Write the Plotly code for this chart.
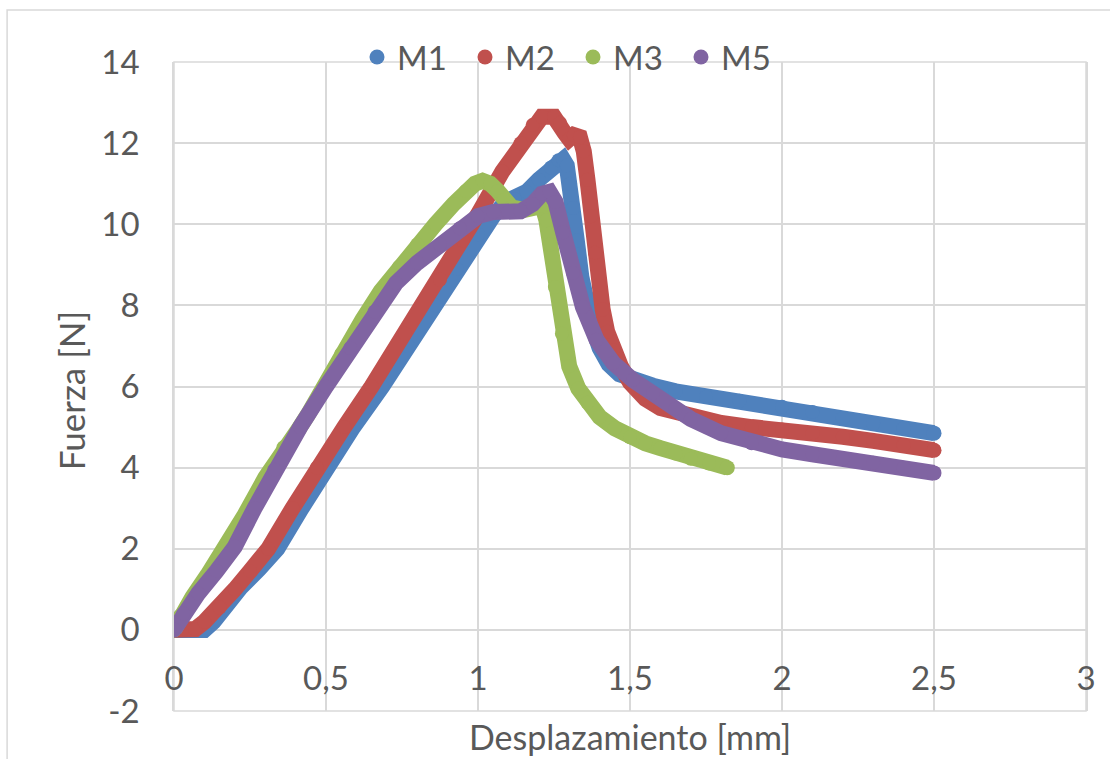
import plotly.graph_objects as go

# Force vs. displacement curves for four specimens
m1_x = [0, 0.05, 0.10, 0.13, 0.17, 0.22, 0.28, 0.34, 0.42, 0.50, 0.59, 0.685, 0.77, 0.86, 0.93, 1.00,
        1.05, 1.09, 1.12, 1.16, 1.20, 1.24, 1.265, 1.28, 1.292, 1.303, 1.313, 1.325, 1.34, 1.355, 1.375,
        1.40, 1.43, 1.465, 1.51, 1.575, 1.65, 1.75, 1.86, 2.00, 2.10, 2.20, 2.30, 2.40, 2.50]
m1_y = [0, 0, 0, 0.2, 0.6, 1.05, 1.5, 2.0, 3.0, 4.0, 5.0, 6.0, 7.0, 8.0, 8.9, 9.75,
        10.2, 10.55, 10.62, 10.8, 11.1, 11.4, 11.58, 11.6, 11.45, 11.0, 10.4, 9.6, 8.7, 8.1, 7.5,
        6.95, 6.55, 6.3, 6.15, 6.02, 5.88, 5.75, 5.65, 5.5, 5.37, 5.22, 5.08, 4.97, 4.85]

m2_x = [0, 0.04, 0.07, 0.10, 0.15, 0.20, 0.25, 0.31, 0.39, 0.47, 0.56, 0.65, 0.76, 0.875, 0.95, 1.00,
        1.08, 1.14, 1.18, 1.21, 1.25, 1.27, 1.285, 1.30, 1.315, 1.335, 1.348, 1.36, 1.372, 1.385, 1.398,
        1.41, 1.425, 1.445, 1.47, 1.50, 1.55, 1.60, 1.70, 1.80, 1.90, 2.00, 2.10, 2.20, 2.30, 2.40, 2.50]
m2_y = [0, 0, 0.02, 0.2, 0.55, 1.0, 1.45, 2.0, 3.0, 4.0, 5.0, 6.0, 7.3, 8.63, 9.6, 10.25,
        11.3, 12.0, 12.45, 12.65, 12.65, 12.5, 12.25, 12.1, 12.2, 12.15, 11.8, 11.1, 10.2, 9.3, 8.5,
        7.9, 7.35, 6.9, 6.5, 6.1, 5.7, 5.47, 5.25, 5.1, 5.0, 4.94, 4.85, 4.76, 4.66, 4.55, 4.43]

m3_x = [0, 0.02, 0.06, 0.11, 0.17, 0.23, 0.30, 0.36, 0.41, 0.44, 0.48, 0.55, 0.62, 0.68, 0.74, 0.80,
        0.86, 0.92, 0.96, 0.99, 1.015, 1.04, 1.065, 1.085, 1.11, 1.15, 1.19, 1.212, 1.225, 1.237, 1.253,
        1.276, 1.30, 1.33, 1.36, 1.40, 1.45, 1.50, 1.55, 1.60, 1.65, 1.70, 1.76, 1.82]
m3_y = [0, 0.35, 0.8, 1.35, 2.0, 2.8, 3.75, 4.5, 4.95, 5.3, 5.85, 6.8, 7.65, 8.35, 8.95, 9.5,
        10.0, 10.5, 10.82, 11.0, 11.07, 11.0, 10.82, 10.6, 10.42, 10.35, 10.4, 10.45, 10.1, 9.5, 8.45,
        7.3, 6.5, 5.95, 5.6, 5.25, 4.97, 4.75, 4.6, 4.48, 4.35, 4.22, 4.1, 4.0]

m5_x = [0, 0.03, 0.08, 0.14, 0.20, 0.265, 0.33, 0.415, 0.50, 0.58, 0.66, 0.73, 0.80, 0.875, 0.94,
        1.00, 1.05, 1.10, 1.14, 1.18, 1.21, 1.235, 1.255, 1.28, 1.313, 1.345, 1.39, 1.445, 1.51, 1.576,
        1.65, 1.70, 1.80, 1.90, 2.00, 2.10, 2.20, 2.30, 2.40, 2.50]
m5_y = [0, 0.4, 0.9, 1.45, 2.05, 3.0, 3.95, 5.0, 6.0, 6.95, 7.85, 8.55, 9.05, 9.5, 9.9,
        10.2, 10.3, 10.3, 10.32, 10.5, 10.75, 10.8, 10.55, 9.8, 8.8, 7.96, 7.15, 6.58, 6.16, 5.84,
        5.45, 5.2, 4.85, 4.6, 4.45, 4.33, 4.22, 4.12, 4.0, 3.87]

series_names = ["M1", "M2", "M3", "M5"]
series_colors = ["#4F81BD", "#C0504D", "#9BBB59", "#8064A2"]

x_ticks = [0, 0.5, 1, 1.5, 2, 2.5, 3]
x_tick_text = ["0", "0,5", "1", "1,5", "2", "2,5", "3"]
y_ticks = [-2, 0, 2, 4, 6, 8, 10, 12, 14]
y_tick_text = ["-2", "0", "2", "4", "6", "8", "10", "12", "14"]

x_range = [0, 3]
y_range = [-2, 14]

FONT = "Lato, Carlito, Calibri, sans-serif"
TXT = "#595959"
GRID = "#D9D9D9"
LW = 16

fig = go.Figure()
for name, color, xs, ys in zip(series_names, series_colors,
                               [m1_x, m2_x, m3_x, m5_x], [m1_y, m2_y, m3_y, m5_y]):
    # thick curve; a dot on every vertex keeps the joins rounded
    fig.add_trace(go.Scatter(x=xs, y=ys, mode="lines+markers", name=name, legendgroup=name,
                             showlegend=False, line=dict(color=color, width=LW),
                             marker=dict(color=color, size=LW - 2, line=dict(width=0)),
                             hoverinfo="skip"))
    # rounded ends of each curve (also provides the legend dot)
    fig.add_trace(go.Scatter(x=[xs[0], xs[-1]], y=[ys[0], ys[-1]], mode="markers", name=name,
                             legendgroup=name, marker=dict(color=color, size=LW - 1, line=dict(width=0))))

# horizontal axis crosses the vertical axis at y = 0
x_axis_pos = (0 - y_range[0]) / (y_range[1] - y_range[0])

fig.update_layout(
    width=1110, height=759,
    margin=dict(l=174, r=24, t=62, b=48),
    paper_bgcolor="white", plot_bgcolor="white",
    font=dict(family=FONT, size=33, color=TXT),
    showlegend=True,
    legend=dict(orientation="h", x=0.4375, xanchor="center", y=1.0077, yanchor="middle",
                bgcolor="rgba(0,0,0,0)", font=dict(size=33, color=TXT),
                itemsizing="trace", tracegroupgap=0, entrywidth=63, entrywidthmode="pixels"),
    xaxis=dict(range=x_range, tickvals=x_ticks, ticktext=x_tick_text, showgrid=True,
               gridcolor=GRID, gridwidth=1.5, zeroline=False, showline=False,
               anchor="free", position=x_axis_pos, ticks="", ticklabelstandoff=26,
               tickfont=dict(size=33, color=TXT)),
    yaxis=dict(range=y_range, tickvals=y_ticks, ticktext=y_tick_text, showgrid=True,
               gridcolor=GRID, gridwidth=1.5, zeroline=False, showline=True, mirror=True,
               linecolor=GRID, linewidth=1.5, ticks="", ticklabelstandoff=26,
               tickfont=dict(size=33, color=TXT)),
    annotations=[
        dict(text="Desplazamiento [mm]", xref="paper", yref="paper", x=0.5, y=-0.039,
             xanchor="center", yanchor="middle", showarrow=False, font=dict(size=34, color=TXT)),
        dict(text="Fuerza [N]", xref="paper", yref="paper", x=-0.112, y=0.494, textangle=-90,
             xanchor="center", yanchor="middle", showarrow=False, font=dict(size=35, color=TXT)),
    ],
    shapes=[
        dict(type="rect", xref="paper", yref="paper", x0=-0.183, y0=-0.2, x1=1.2, y1=1.080,
             line=dict(color=GRID, width=1.5), fillcolor="rgba(0,0,0,0)", layer="below"),
        dict(type="rect", xref="paper", yref="paper", x0=0, y0=0, x1=1, y1=1,
             line=dict(color=GRID, width=1.5), fillcolor="rgba(0,0,0,0)", layer="below"),
    ],
)

fig.write_html("out.html")
